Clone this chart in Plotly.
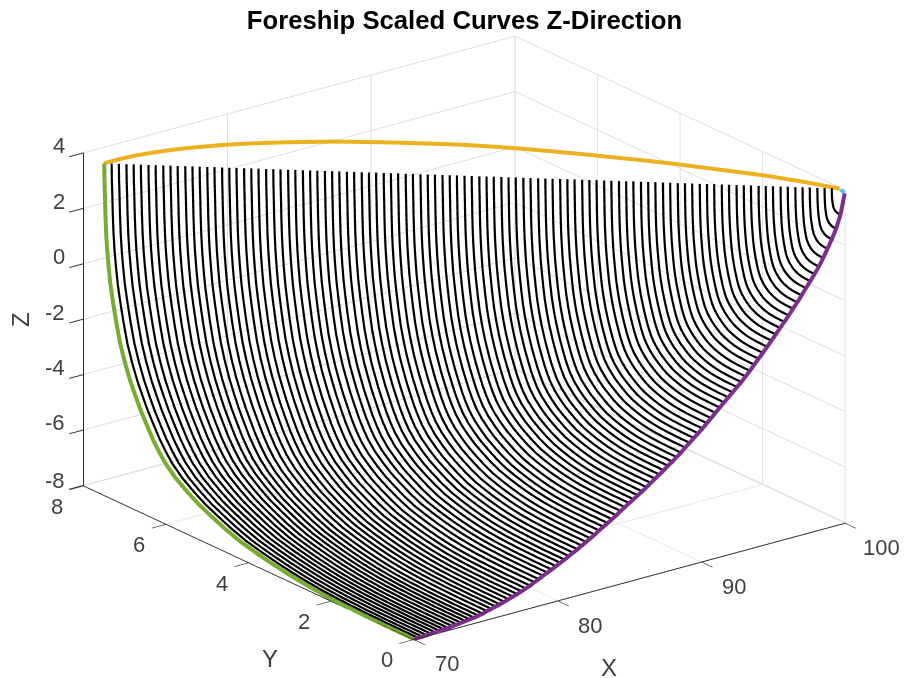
import plotly.graph_objects as go

stations = [70.3,70.6,70.9,71.2,71.5,71.8,72.1,72.4,72.7,73.0,73.3,73.6,73.9,74.2,74.5,74.8,75.1,75.4,75.7,76.0,
76.3,76.6,76.9,77.2,77.5,77.8,78.1,78.4,78.7,79.0,79.3,79.6,79.9,80.2,80.5,80.8,81.1,81.4,81.7,82.0,
82.3,82.6,82.9,83.2,83.5,83.8,84.1,84.4,84.7,85.0,85.3,85.6,85.9,86.2,86.5,86.8,87.1,87.4,87.7,88.0,
88.3,88.6,88.9,89.2,89.5,89.8,90.1,90.4,90.7,91.0,91.3,91.6,91.9,92.2,92.5,92.8,93.1,93.4,93.7,94.0,
94.3,94.6,94.9,95.2,95.5,95.8,96.1,96.4,96.7,97.0,97.3,97.6,97.9,98.2,98.5,98.8,99.1,99.4,99.7]

keel_z = [-8.00,-8.00,-7.99,-7.98,-7.97,-7.96,-7.95,-7.94,-7.92,-7.90,-7.88,-7.86,-7.84,-7.82,-7.79,-7.76,-7.71,-7.67,-7.63,-7.59,
-7.54,-7.49,-7.44,-7.39,-7.33,-7.27,-7.21,-7.13,-7.06,-6.98,-6.91,-6.84,-6.76,-6.68,-6.61,-6.52,-6.44,-6.36,-6.27,-6.18,
-6.09,-6.00,-5.89,-5.80,-5.71,-5.61,-5.51,-5.40,-5.30,-5.20,-5.10,-5.00,-4.90,-4.79,-4.68,-4.57,-4.46,-4.35,-4.23,-4.12,
-4.00,-3.88,-3.74,-3.61,-3.48,-3.35,-3.22,-3.07,-2.93,-2.78,-2.63,-2.49,-2.35,-2.21,-2.06,-1.92,-1.76,-1.60,-1.42,-1.25,
-1.08,-0.90,-0.72,-0.54,-0.35,-0.17,0.02,0.22,0.41,0.62,0.84,1.05,1.26,1.49,1.76,2.05,2.35,2.69,3.15]

top_y = [7.43,7.36,7.28,7.21,7.14,7.06,6.99,6.91,6.84,6.77,6.69,6.62,6.55,6.47,6.40,6.32,6.25,6.18,6.10,6.03,
5.96,5.88,5.81,5.74,5.66,5.59,5.51,5.44,5.37,5.29,5.22,5.15,5.07,5.00,4.92,4.85,4.78,4.70,4.63,4.56,
4.48,4.41,4.33,4.26,4.19,4.11,4.04,3.97,3.89,3.82,3.74,3.67,3.60,3.52,3.45,3.38,3.30,3.23,3.15,3.08,
3.01,2.93,2.86,2.79,2.71,2.64,2.57,2.49,2.42,2.34,2.27,2.20,2.12,2.05,1.98,1.90,1.83,1.75,1.68,1.61,
1.53,1.46,1.39,1.31,1.24,1.16,1.09,1.02,0.94,0.87,0.80,0.72,0.65,0.57,0.50,0.43,0.35,0.28,0.21]

top_z = 3.96

green_y = [7.505,7.500,7.490,7.478,7.46,7.435,7.40,7.355,7.29,7.21,7.12,7.01,6.88,6.75,6.63,6.48,6.33,6.18,6.02,5.78,5.49,5.22,4.93,4.57,4.20,3.80,3.42,3.08,2.76,2.40,1.95,1.40,0.75,0.0]
green_z = [3.96,3.4,2.92,2.2,1.5,0.9,0.32,-0.3,-0.92,-1.6,-2.26,-2.85,-3.43,-3.9,-4.31,-4.75,-5.17,-5.52,-5.84,-6.19,-6.50,-6.75,-6.96,-7.20,-7.40,-7.55,-7.67,-7.76,-7.83,-7.89,-7.94,-7.975,-7.995,-8.0]

bow_x = 100.0
stern_x = 70.0
stem_top_z = 3.88

yellow_x = [70,71,72,73,74,75,76,77,78,79,80,81,82,83,84,85,86,87,88,89,90,91,92,93,94,95,96,97,98,99,99.5,100]
yellow_y = [7.51,7.51,7.49,7.44,7.37,7.28,7.17,7.05,6.91,6.75,6.58,6.40,6.21,6.00,5.78,5.55,5.31,5.07,4.80,4.51,4.20,3.87,3.53,3.17,2.82,2.44,2.03,1.62,1.20,0.70,0.42,0.12]

blue_y = [0.10,0.0]
blue_z = [3.96,3.88]

x_ticks = [70,80,90,100]
y_ticks = [0,2,4,6,8]
z_ticks = [-8,-6,-4,-2,0,2,4]

BLACK, GREEN, PURPLE, YELLOW, BLUE = "#000000", "#77AC30", "#7E2F8E", "#EDB120", "#4DBEEE"
TXT = "#404040"
FONT = "Liberation Sans"
W, H = 906, 678

bx, by, bz = [], [], []
zm0, ym0 = green_z[-1], green_y[0]
for xs, yt, zk in zip(stations, top_y, keel_z):
    for gy, gz in zip(green_y, green_z):
        bx.append(xs)
        by.append(yt * gy / ym0)
        bz.append(top_z + (zk - top_z) * (gz - top_z) / (zm0 - top_z))
    bx.append(None); by.append(None); bz.append(None)

purple_x = [stern_x] + stations + [bow_x]
purple_z = [green_z[-1]] + keel_z + [stem_top_z]

fig = go.Figure()
fig.add_trace(go.Scatter3d(x=bx, y=by, z=bz, mode="lines", line=dict(color=BLACK, width=4.4), showlegend=False, hoverinfo="skip"))
fig.add_trace(go.Scatter3d(x=[stern_x]*len(green_y), y=green_y, z=green_z, mode="lines", line=dict(color=GREEN, width=8), showlegend=False))
fig.add_trace(go.Scatter3d(x=purple_x, y=[0.0]*len(purple_x), z=purple_z, mode="lines", line=dict(color=PURPLE, width=8), showlegend=False))
fig.add_trace(go.Scatter3d(x=yellow_x, y=yellow_y, z=[top_z]*len(yellow_x), mode="lines", line=dict(color=YELLOW, width=8), showlegend=False))
fig.add_trace(go.Scatter3d(x=[bow_x, bow_x], y=blue_y, z=blue_z, mode="lines", line=dict(color=BLUE, width=8), showlegend=False))

def ax(rng, dt, t0):
    return dict(
        title=dict(text=""),
        range=rng, tick0=t0, dtick=dt, tickmode="linear", autorange=False,
        showgrid=True, gridcolor="#dedede", gridwidth=2,
        showbackground=False, zeroline=False, showspikes=False,
        showline=True, linecolor="#303030", linewidth=2,
        ticks="outside", ticklen=18, tickcolor="#303030", tickwidth=2,
        showticklabels=False,
    )

def lab(x, y, z, text, dx, dy):
    return dict(x=x, y=y, z=z, text=text, showarrow=False, xanchor="center", yanchor="middle",
                xshift=dx, yshift=dy, font=dict(family=FONT, size=22, color=TXT))

scene_ann = []
for t in x_ticks:
    scene_ann.append(lab(t, 0, -8, str(t), 37 if t == 100 else 33, -25))
for t in y_ticks:
    scene_ann.append(lab(70, t, -8, str(t), -27, -21))
for t in z_ticks:
    scene_ann.append(lab(70, 8, t, str(t), -29 if t < 0 else -25, 5 if t == -8 else 7))

def title_ann(px, py, text, angle=0):
    return dict(x=px / W, y=1 - py / H, xref="paper", yref="paper", text=text, showarrow=False,
                xanchor="center", yanchor="middle", textangle=angle,
                font=dict(family=FONT, size=24, color=TXT))

fig.update_layout(
    width=W, height=H, autosize=False,
    margin=dict(l=0, r=0, t=0, b=0),
    paper_bgcolor="white",
    title=dict(text="<b>Foreship Scaled Curves Z-Direction</b>", x=464.5 / W, xanchor="center", y=1 - 20 / H, yanchor="middle",
               font=dict(family=FONT, size=25.7, color="#000000")),
    annotations=[title_ann(609, 667, "X"), title_ann(270, 658, "Y"), title_ann(20, 320, "Z", -90)],
    scene=dict(
        domain=dict(x=[0.0254, 1.0], y=[0.003, 1.0]),
        xaxis=ax([69.98, 100.02], 10, 70),
        yaxis=ax([-0.01, 8.0], 2, 0),
        zaxis=ax([-8.02, 4.0], 2, -8),
        aspectmode="manual",
        aspectratio=dict(x=1.605, y=1.613, z=1.054),
        annotations=scene_ann,
        camera=dict(projection=dict(type="orthographic"),
                    center=dict(x=0, y=0, z=0), up=dict(x=0, y=0, z=1),
                    eye=dict(x=-1.065, y=-1.398, z=0.667)),
    ),
)
fig.write_html("out.html", config={"displayModeBar": False},
               post_script="document.body.style.margin='0';document.documentElement.style.overflow='hidden';")
